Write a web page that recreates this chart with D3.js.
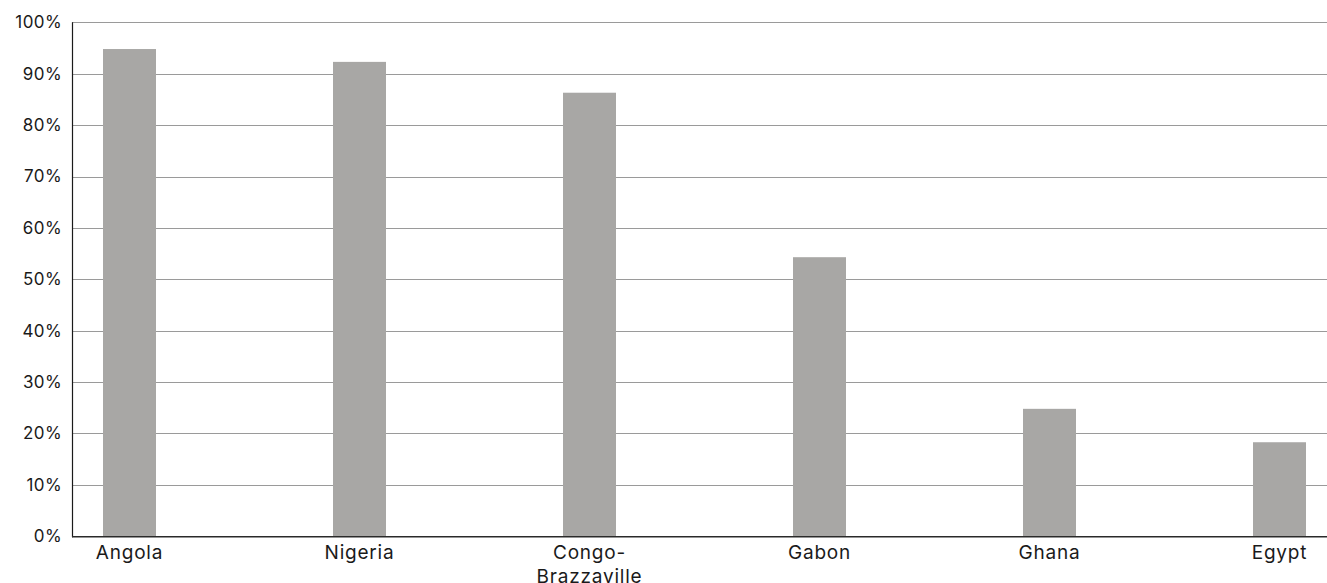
<!DOCTYPE html>
<html>
<head>
<meta charset="utf-8">
<script src="https://cdn.jsdelivr.net/npm/d3@7/dist/d3.min.js"></script>
<style>
  html, body { margin: 0; padding: 0; background: #fff; }
  svg { display: block; }
  text { font-family: "Inter", "Lato", sans-serif; fill: #1a1a1a; }
</style>
</head>
<body>
<svg id="chart" width="1327" height="583"></svg>
<script>
// Country shares (percent)
const countries = ["Angola", "Nigeria", "Congo-Brazzaville", "Gabon", "Ghana", "Egypt"];
const countryLines = [["Angola"], ["Nigeria"], ["Congo-", "Brazzaville"], ["Gabon"], ["Ghana"], ["Egypt"]];
const shares = [94.8, 92.3, 86.3, 54.3, 24.8, 18.3];
const yTicks = [0, 10, 20, 30, 40, 50, 60, 70, 80, 90, 100];

(function () {
  const svg = d3.select("#chart");
  const W = 1327;
  const plotLeft = 72, plotTop = 22.3, plotBottom = 536.3;

  const x = d3.scaleBand()
    .domain(countries)
    .range([plotLeft, 1337])
    .paddingInner(0.7696)
    .paddingOuter(0.1348);

  const y = d3.scaleLinear().domain([0, 100]).range([plotBottom, plotTop]);

  // horizontal gridlines
  svg.append("g")
    .selectAll("line")
    .data(yTicks.filter(d => d > 0))
    .join("line")
    .attr("x1", plotLeft).attr("x2", W)
    .attr("y1", d => Math.round(y(d)) + 0.5).attr("y2", d => Math.round(y(d)) + 0.5)
    .attr("stroke", "#9a9a9a").attr("stroke-width", 1);

  // bars
  svg.append("g")
    .selectAll("rect")
    .data(countries)
    .join("rect")
    .attr("x", d => x(d))
    .attr("width", x.bandwidth())
    .attr("y", (d, i) => y(shares[i]))
    .attr("height", (d, i) => y(0) - y(shares[i]))
    .attr("fill", "#a8a7a5");

  // y axis labels
  const yAxis = d3.axisLeft(y).tickValues(yTicks).tickFormat(d => d + "%").tickSize(0).tickPadding(10);
  const ya = svg.append("g").attr("transform", `translate(${plotLeft},0)`).call(yAxis);
  ya.select(".domain").remove();
  ya.selectAll("text")
    .style("font-family", "Inter, Lato, sans-serif")
    .style("font-size", "17px")
    .style("letter-spacing", "0.4px")
    .attr("fill", "#1a1a1a");

  // axis lines
  svg.append("line")
    .attr("x1", plotLeft + 0.5).attr("x2", plotLeft + 0.5)
    .attr("y1", plotTop).attr("y2", plotBottom + 1)
    .attr("stroke", "#1a1a1a").attr("stroke-width", 1.2);
  svg.append("line")
    .attr("x1", plotLeft).attr("x2", W)
    .attr("y1", plotBottom + 0.5).attr("y2", plotBottom + 0.5)
    .attr("stroke", "#2a2a2a").attr("stroke-width", 1.4);

  // category labels
  const xl = svg.append("g")
    .selectAll("text")
    .data(countries)
    .join("text")
    .attr("text-anchor", "middle")
    .attr("x", d => x(d) + x.bandwidth() / 2)
    .attr("y", 559)
    .style("font-size", "19px")
    .style("letter-spacing", "0.8px");
  xl.selectAll("tspan")
    .data((d, i) => countryLines[i])
    .join("tspan")
    .attr("x", function () { return this.parentNode.getAttribute("x"); })
    .attr("dy", (d, i) => i === 0 ? 0 : 24)
    .text(d => d);
})();
</script>
</body>
</html>
